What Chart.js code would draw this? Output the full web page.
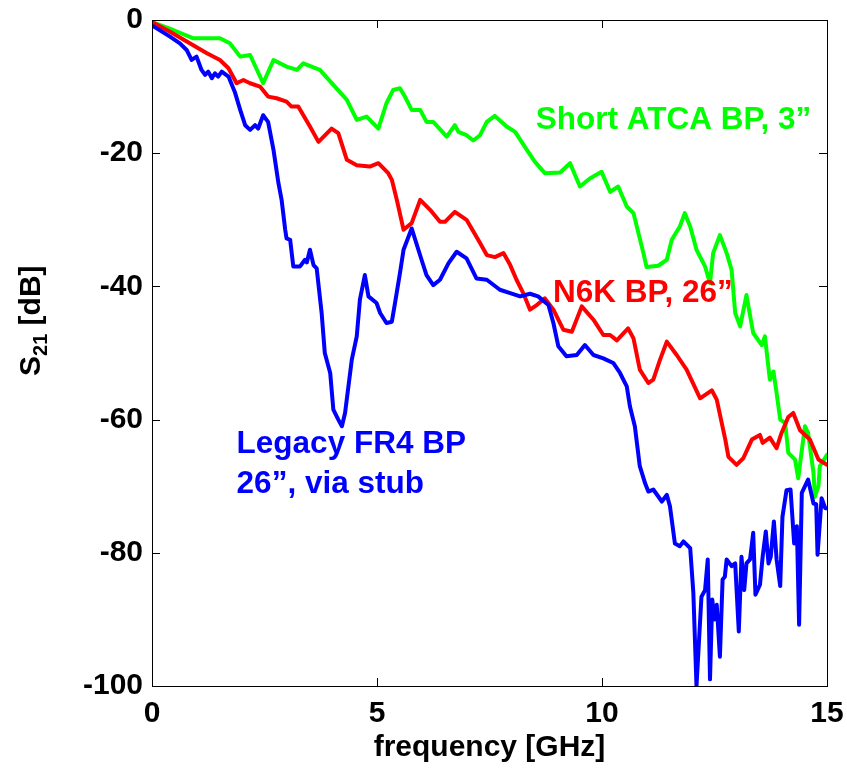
<!DOCTYPE html>
<html>
<head>
<meta charset="utf-8">
<title>S21 vs frequency</title>
<script src="https://cdn.jsdelivr.net/npm/chart.js@4.4.1/dist/chart.umd.min.js"></script>
<style>
  html, body { margin: 0; padding: 0; background: #fff; }
  #wrap { width: 847px; height: 770px; position: relative; }
</style>
</head>
<body>
<div id="wrap"><canvas id="s21"></canvas></div>
<script>
'use strict';

/* ---------- data: [frequency GHz, S21 dB] ---------- */

const atcaTrace = [
  [0, -0.3], [0.47, -1.5], [0.92, -2.75], [1.51, -2.75], [1.73, -3.5], [1.96, -5.5], [2.18, -5.25],
  [2.47, -9.5], [2.70, -6], [2.99, -7], [3.22, -7.5], [3.36, -6.5], [3.73, -7.5], [4.03, -9.75],
  [4.33, -12], [4.55, -15], [4.77, -14.5], [5.03, -16.3], [5.21, -12.5], [5.36, -10.5], [5.51, -10.25],
  [5.62, -11.5], [5.77, -13.5], [5.96, -13.5], [6.10, -15.3], [6.25, -15.3], [6.55, -17.5], [6.73, -15.8],
  [6.81, -16.8], [6.99, -17.3], [7.14, -18.1], [7.29, -17.3], [7.44, -15.3], [7.62, -14.4], [7.88, -16],
  [8.07, -16.8], [8.33, -19.5], [8.51, -21.3], [8.73, -23], [9.07, -22.9], [9.29, -21.5], [9.51, -25],
  [9.73, -23.8], [9.99, -22.8], [10.18, -25.8], [10.36, -25], [10.55, -28], [10.70, -29], [10.81, -32],
  [10.92, -35], [10.99, -37.1], [11.25, -36.9], [11.44, -36], [11.55, -33], [11.73, -31], [11.84, -29],
  [11.96, -31], [12.10, -34.5], [12.29, -37], [12.40, -39.5], [12.47, -35], [12.62, -32.3], [12.77, -35],
  [12.88, -37.5], [12.96, -44], [13.07, -46], [13.21, -41.3], [13.36, -47], [13.55, -48.8], [13.62, -47.5],
  [13.73, -54], [13.81, -52.8], [13.88, -56], [13.96, -60], [14.07, -60.5], [14.14, -65], [14.29, -66],
  [14.36, -68.8], [14.44, -64.6], [14.51, -61], [14.58, -62], [14.70, -68], [14.73, -71.6], [14.81, -70],
  [14.84, -67], [15.0, -65.3]
];

const n6kTrace = [
  [0, -0.3], [0.4, -1.75], [0.84, -3.5], [1.22, -5], [1.51, -6], [1.70, -7.25], [1.88, -9.5], [2.03, -9],
  [2.18, -9.5], [2.40, -10], [2.58, -11.5], [2.77, -11.75], [2.99, -12.25], [3.10, -13], [3.25, -13],
  [3.51, -16], [3.70, -18.3], [3.99, -16.3], [4.14, -17], [4.33, -21], [4.55, -21.8], [4.84, -22],
  [5.03, -21.5], [5.25, -23], [5.33, -24], [5.44, -27], [5.59, -31.5], [5.77, -30.5], [5.96, -27],
  [6.18, -28.5], [6.40, -30.3], [6.51, -30.3], [6.73, -28.8], [6.99, -30], [7.29, -33.5], [7.44, -35.3],
  [7.62, -35.6], [7.81, -35], [7.96, -36.8], [8.10, -39], [8.25, -41], [8.40, -43.5], [8.55, -42.8],
  [8.73, -41.8], [8.92, -43.5], [9.14, -46.5], [9.33, -46.8], [9.55, -43], [9.81, -45], [10.03, -47.3],
  [10.18, -47.3], [10.33, -48.1], [10.58, -46.3], [10.70, -47.8], [10.84, -52.5], [11.03, -54.5],
  [11.14, -54], [11.29, -51], [11.44, -48.3], [11.66, -50.3], [11.88, -52.5], [12.18, -56.8], [12.44, -55.6],
  [12.55, -57], [12.74, -63], [12.81, -65.6], [12.99, -66.8], [13.14, -65.8], [13.33, -63], [13.51, -62.3],
  [13.57, -63.5], [13.73, -62.7], [13.88, -64.3], [13.99, -62], [14.14, -59.6], [14.25, -59], [14.40, -61.6],
  [14.62, -63], [14.81, -66], [15.0, -66.8]
];

const legacyTrace = [
  [0, -0.8], [0.4, -2.5], [0.62, -3.5], [0.77, -4.5], [0.88, -6], [0.99, -5.5], [1.10, -7.5], [1.18, -8.25],
  [1.25, -7.75], [1.33, -8.75], [1.40, -8], [1.47, -8.5], [1.55, -7.75], [1.70, -8.5], [1.84, -10.8],
  [1.96, -13.5], [2.07, -15.8], [2.18, -16.5], [2.29, -15.8], [2.36, -16.3], [2.47, -14.3], [2.58, -15.3],
  [2.70, -19.5], [2.81, -24.5], [2.88, -27], [2.96, -31.5], [2.99, -32.8], [3.07, -33], [3.14, -37],
  [3.29, -37], [3.40, -36], [3.44, -36.4], [3.51, -34.5], [3.59, -36.8], [3.66, -37.3], [3.77, -44],
  [3.84, -50], [3.96, -53], [4.03, -58.5], [4.14, -60], [4.22, -61], [4.29, -59], [4.44, -51], [4.55, -47.5],
  [4.62, -42], [4.73, -38.3], [4.81, -41.5], [4.99, -42.5], [5.07, -44], [5.21, -45.5], [5.33, -45.3],
  [5.40, -42.5], [5.51, -38], [5.59, -34.5], [5.77, -31.3], [5.99, -36], [6.10, -38.3], [6.25, -39.8],
  [6.40, -39], [6.59, -36.5], [6.77, -34.8], [6.99, -35.8], [7.21, -38.8], [7.44, -39], [7.73, -40.5],
  [7.96, -41], [8.18, -41.5], [8.40, -41.1], [8.58, -41.5], [8.81, -42.8], [8.92, -45.5], [9.03, -49],
  [9.21, -50.5], [9.44, -50.3], [9.62, -48.8], [9.81, -50.3], [10.03, -50.8], [10.25, -51.5], [10.40, -53],
  [10.55, -55], [10.62, -58], [10.73, -61], [10.84, -67], [10.96, -69.6], [11.03, -70.8], [11.14, -70.5],
  [11.33, -72.3], [11.44, -71.3], [11.51, -73], [11.62, -78.6], [11.73, -79], [11.81, -78.3], [11.96, -79.3],
  [12.03, -86], [12.10, -100], [12.21, -86.6], [12.29, -85.6], [12.35, -81], [12.40, -99], [12.45, -87],
  [12.50, -90], [12.55, -87.8], [12.62, -95.6], [12.68, -84], [12.73, -83.6], [12.77, -81], [12.88, -82],
  [12.96, -81.6], [13.04, -91.8], [13.10, -80.6], [13.16, -85.6], [13.21, -81.6], [13.29, -81], [13.36, -77],
  [13.41, -86.3], [13.51, -84.8], [13.57, -80.6], [13.64, -76.8], [13.70, -81.6], [13.75, -80.6],
  [13.82, -75.3], [13.88, -81], [13.96, -85], [14.01, -74.6], [14.10, -70.6], [14.19, -70.5], [14.27, -78.6],
  [14.33, -76], [14.38, -90.8], [14.44, -71], [14.58, -69], [14.70, -72.6], [14.76, -72.7], [14.79, -80.3],
  [14.88, -71.8], [14.96, -73.3], [15.0, -73.3]
];

const freqTicks = [0, 5, 10, 15];
const dbTicks = [0, -20, -40, -60, -80, -100];

// curve labels, anchored in data units (left edge, baseline)
const curveLabels = [
  { lines: ['Short ATCA BP, 3\u201d'], f: 8.53, db: -16.3, color: '#00ff00' },
  { lines: ['N6K BP, 26\u201d'], f: 8.91, db: -42.3, color: '#ff0000' },
  { lines: ['Legacy FR4 BP', '26\u201d, via stub'], f: 1.88, db: -65.0, color: '#0000ff' }
];

/* ---------- helpers ---------- */

const FONT = '"Liberation Sans", Arial, Helvetica, sans-serif';
const toPoints = trace => trace.map(([f, db]) => ({ x: f, y: db }));

function lineSet(label, trace, color) {
  return {
    label,
    data: toPoints(trace),
    borderColor: color,
    backgroundColor: color,
    borderWidth: 4,
    pointRadius: 0,
    tension: 0,
    borderJoinStyle: 'round',
    borderCapStyle: 'round'
  };
}

// box round the plot plus inward tick marks, MATLAB style
const axesBox = {
  id: 'axesBox',
  afterDraw(chart) {
    const { ctx, chartArea: a, scales } = chart;
    ctx.save();
    ctx.strokeStyle = '#000';
    ctx.lineWidth = 1;
    ctx.strokeRect(a.left + 0.5, a.top + 0.5, a.right - a.left, a.bottom - a.top);
    const tl = 8;
    ctx.beginPath();
    freqTicks.forEach(v => {
      const x = Math.round(scales.x.getPixelForValue(v)) + 0.5;
      ctx.moveTo(x, a.bottom); ctx.lineTo(x, a.bottom - tl);
      ctx.moveTo(x, a.top); ctx.lineTo(x, a.top + tl);
    });
    dbTicks.forEach(v => {
      const y = Math.round(scales.y.getPixelForValue(v)) + 0.5;
      ctx.moveTo(a.left, y); ctx.lineTo(a.left + tl, y);
      ctx.moveTo(a.right, y); ctx.lineTo(a.right - tl, y);
    });
    ctx.stroke();
    ctx.restore();
  }
};

// text labels next to each curve
const curveText = {
  id: 'curveText',
  afterDatasetsDraw(chart) {
    const { ctx, scales } = chart;
    ctx.save();
    ctx.font = 'bold 31.5px ' + FONT;
    ctx.textAlign = 'left';
    ctx.textBaseline = 'alphabetic';
    curveLabels.forEach(lbl => {
      const x = scales.x.getPixelForValue(lbl.f);
      const y = scales.y.getPixelForValue(lbl.db);
      ctx.fillStyle = lbl.color;
      lbl.lines.forEach((t, i) => ctx.fillText(t, x, y + i * 40));
    });
    ctx.restore();
  }
};

// y title with a subscript: S21 [dB]
const yTitle = {
  id: 'yTitle',
  afterDraw(chart) {
    const { ctx, chartArea: a } = chart;
    ctx.save();
    ctx.translate(40, (a.top + a.bottom) / 2 + 23);
    ctx.rotate(-Math.PI / 2);
    ctx.fillStyle = '#000';
    ctx.textAlign = 'left';
    ctx.textBaseline = 'alphabetic';
    ctx.font = 'bold 30px ' + FONT;
    ctx.fillText('S', 0, 0);
    let x = ctx.measureText('S').width;
    ctx.font = 'bold 20px ' + FONT;
    ctx.fillText('21', x, 7);
    x += ctx.measureText('21').width;
    ctx.font = 'bold 30px ' + FONT;
    ctx.fillText(' [dB]', x, 0);
    ctx.restore();
  }
};

/* ---------- chart ---------- */

Chart.defaults.font.family = FONT;
Chart.defaults.color = '#000';

new Chart(document.getElementById('s21').getContext('2d'), {
  type: 'line',
  data: {
    datasets: [
      lineSet('Legacy FR4 BP 26\u201d, via stub', legacyTrace, '#0000ff'),
      lineSet('N6K BP, 26\u201d', n6kTrace, '#ff0000'),
      lineSet('Short ATCA BP, 3\u201d', atcaTrace, '#00ff00')
    ]
  },
  options: {
    responsive: true,
    maintainAspectRatio: false,
    animation: false,
    layout: { padding: { top: 20, right: 20, left: 0, bottom: 0 } },
    plugins: { legend: { display: false }, tooltip: { enabled: false } },
    scales: {
      x: {
        type: 'linear',
        min: 0,
        max: 15,
        afterBuildTicks: s => { s.ticks = freqTicks.map(v => ({ value: v })); },
        ticks: { padding: 10, color: '#000', font: { size: 30, weight: 'bold' }, maxRotation: 0 },
        grid: { display: false, drawTicks: false },
        border: { display: false },
        title: {
          display: true,
          text: 'frequency [GHz]',
          color: '#000',
          font: { size: 30, weight: 'bold' },
          padding: { top: 0, bottom: 4 }
        },
        afterFit: s => { s.height = 84; s.paddingLeft = 0; s.paddingRight = 0; }
      },
      y: {
        type: 'linear',
        min: -100,
        max: 0,
        afterBuildTicks: s => { s.ticks = dbTicks.map(v => ({ value: v })); },
        ticks: { padding: 9, color: '#000', font: { size: 30, weight: 'bold' } },
        grid: { display: false, drawTicks: false },
        border: { display: false },
        afterFit: s => { s.width = 152; s.paddingTop = 0; s.paddingBottom = 0; }
      }
    }
  },
  plugins: [axesBox, curveText, yTitle]
});
</script>
</body>
</html>
